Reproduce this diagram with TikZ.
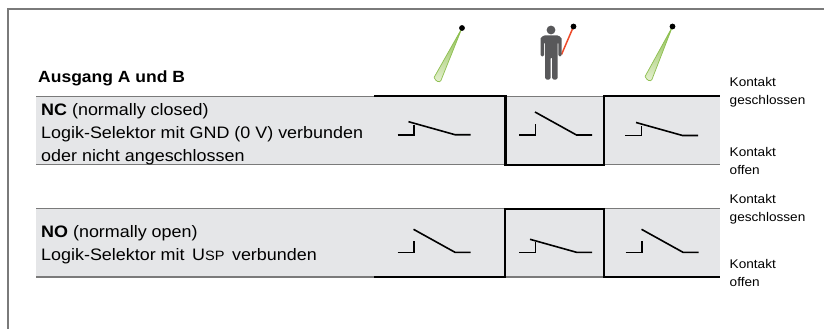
\documentclass[tikz,border=0pt]{standalone}
\usepackage{fontspec}
\setmainfont[FakeStretch=1.08]{Liberation Sans}
\definecolor{rowgray}{HTML}{E5E6E8}
\definecolor{rulegray}{HTML}{7A7A7A}
\definecolor{mangray}{HTML}{58585A}
\definecolor{beamgreen}{HTML}{8DBF4F}
\definecolor{beamfill}{HTML}{E6F0D2}
\definecolor{beamred}{HTML}{EE4B2B}
\tikzset{
  rowrule/.style={rulegray,line width=1.2pt},
  state/.style={black,line width=2.2pt},
  contact/.style={black,line width=1.6pt},
  lbl/.style={anchor=west,inner sep=0pt,font=\fontsize{16.6}{23}\selectfont,align=left},
  side/.style={anchor=west,inner sep=0pt,font=\fontsize{12.6}{17.5}\selectfont,align=left},
}
\newcommand{\swclosed}[2]{%
  \draw[contact] (#1-11,#2) -- (#1+5.5,#2) -- (#1+5.5,#2-10);
  \draw[contact] (#1,#2-13) -- (#1+46.5,#2) -- (#1+62,#2);
}
\newcommand{\swopen}[2]{%
  \draw[contact] (#1-11,#2) -- (#1+5.5,#2) -- (#1+5.5,#2-11);
  \draw[contact] (#1+5,#2-23) -- (#1+46.5,#2) -- (#1+62,#2);
}
\newcommand{\sensor}[4]{%
  \shadedraw[draw=beamgreen,top color=beamgreen,bottom color=beamfill,line width=.7pt,line join=round]
    (#1,#2) -- (#3+3.4,#4+1.6) .. controls (#3+2,#4+4) and (#3-2,#4+2.5) .. (#3-3.4,#4-1.6) -- cycle;
  \fill[black] (#1,#2) circle[radius=2.9];
}
\begin{document}
\begin{tikzpicture}[x=1pt,y=-1pt]
\useasboundingbox (0,0) rectangle (824,329);
\fill[white] (0,0) rectangle (824,329);
\draw[rulegray,line width=1.2pt] (8,329) -- (8,9) -- (824,9);
% rows
\fill[rowgray] (36,96.5) rectangle (720,164.5);
\fill[rowgray] (36,208.5) rectangle (720,277);
\draw[rowrule] (36,96.5) -- (720,96.5);
\draw[rowrule] (36,164.5) -- (720,164.5);
\draw[rowrule] (36,208.5) -- (720,208.5);
\draw[rowrule] (36,277) -- (720,277);
% state lines
\draw[state] (374,96.3) -- (505.5,96.3) -- (505.5,164.7) -- (604.3,164.7) -- (604.3,96.3) -- (720,96.3);
\draw[state] (374,276.8) -- (505,276.8) -- (505,208.7) -- (604.3,208.7) -- (604.3,276.8) -- (720,276.8);
% switches
\swclosed{408.5}{134.7}
\swopen{530}{135}
\swclosed{636}{135.5}
\swopen{408.5}{252.3}
\swclosed{530}{252.3}
\swopen{636.5}{252.3}
% sensors
\sensor{462}{28}{437.5}{79}
\sensor{672.5}{26.5}{648.5}{78}
\draw[beamred,line width=1.5pt] (573.5,26.5) -- (561.5,54.5);
\fill[black] (573.5,26.5) circle[radius=2.9];
% person
\fill[mangray] (551,30) circle[radius=4.4];
\fill[mangray,rounded corners=1.5pt] (540.5,40) .. controls (540.5,37) and (544,35.5) .. (546,35.5) -- (556,35.5) .. controls (558,35.5) and (561.5,37) .. (561.5,40) -- (561.5,56.5) -- (558.3,56.5) -- (558.3,42) -- (557.5,42) -- (557.5,79.5) -- (552,79.5) -- (552,57) -- (550.5,57) -- (550.5,79.5) -- (545,79.5) -- (545,42) -- (544,42) -- (544,56.5) -- (540.5,56.5) -- cycle;
% text
\node[lbl,anchor=base west,font=\fontsize{16.2}{23}\selectfont\bfseries] (title) at (38,82.7) {Ausgang A und B};
\node[lbl,anchor=north west] (nc) at (41,103.7) {\textbf{NC} (normally closed)\\Logik-Selektor mit GND (0 V) verbunden\\oder nicht angeschlossen};
\node[lbl,anchor=north west] (no) at (41,225.7) {\textbf{NO} (normally open)\\Logik-Selektor mit\hspace{2.5pt} U{\fontsize{13.5}{15}\selectfont SP}\hspace{2.5pt} verbunden};
\node[side] (k1) at (729.5,92) {Kontakt\\geschlossen};
\node[side] (k2) at (729.5,161) {Kontakt\\offen};
\node[side] (k3) at (729.5,209) {Kontakt\\geschlossen};
\node[side] (k4) at (729.5,273) {Kontakt\\offen};
\end{tikzpicture}
\end{document}
